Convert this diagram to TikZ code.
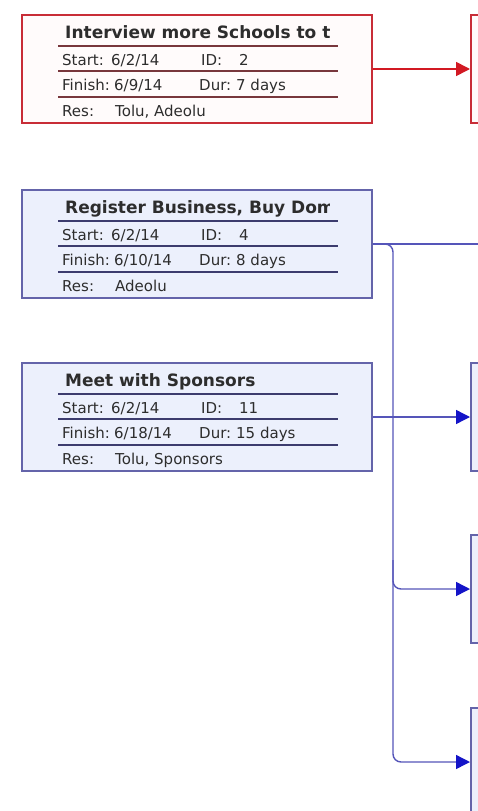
\documentclass[tikz,border=0pt]{standalone}
\usepackage{fontspec}
\setmainfont{DejaVu Sans}
\usetikzlibrary{arrows.meta}
\definecolor{redline}{RGB}{200,45,55}
\definecolor{redarrow}{RGB}{210,25,35}
\definecolor{redsepc}{RGB}{120,55,60}
\definecolor{redfill}{RGB}{255,251,251}
\definecolor{blueline}{RGB}{100,100,170}
\definecolor{bluefill}{RGB}{236,240,252}
\definecolor{bluesepc}{RGB}{60,60,110}
\definecolor{blueconnc}{RGB}{85,85,185}
\definecolor{bluehead}{RGB}{20,20,200}
\definecolor{txt}{RGB}{45,45,45}
\tikzset{
  redbox/.style={draw=redline, fill=redfill, line width=2pt, rectangle, inner sep=0pt},
  bluebox/.style={draw=blueline, fill=bluefill, line width=1.6pt, rectangle, inner sep=0pt},
  redsep/.style={draw=redsepc, line width=1.3pt},
  bluesep/.style={draw=bluesepc, line width=1.3pt},
  titletext/.style={font=\bfseries\fontsize{17}{17}\selectfont, text=txt, anchor=base west, inner sep=0pt},
  infotext/.style={font=\fontsize{15}{15}\selectfont, text=txt, anchor=base west, inner sep=0pt},
  redconn/.style={draw=redarrow, line width=1.6pt, -{Triangle[length=14pt,width=14pt]}},
  blueconn/.style={draw=blueconnc, line width=1.4pt},
  bluearrow/.style={blueconn, -{Triangle[length=14pt,width=14pt,color=bluehead]}},
  sidebox/.style={minimum width=60pt, minimum height=108pt, anchor=west},
}
\newcommand\taskbox[9]{%
  \begin{scope}[yshift=-#2pt]
    \node[#3box, minimum width=350pt, minimum height=108pt] (#1) at (197,54) {};
    \begin{scope}
      \clip (58,0) rectangle (329,30);
      \node[titletext] (#1-title) at (65,23) {#4};
    \end{scope}
    \draw[#3sep] (58,31) -- (338,31) (58,56) -- (338,56) (58,82) -- (338,82);
    \node[infotext] (#1-startl) at (62,50) {Start:};
    \node[infotext] (#1-start) at (111,50) {#5};
    \node[infotext] (#1-idl) at (201,50) {ID:};
    \node[infotext] (#1-id) at (239,50) {#6};
    \node[infotext] (#1-finl) at (62,75) {Finish:};
    \node[infotext] (#1-fin) at (114,75) {#7};
    \node[infotext] (#1-durl) at (199,75) {Dur:};
    \node[infotext] (#1-dur) at (236,75) {#8};
    \node[infotext] (#1-resl) at (62,101) {Res:};
    \node[infotext] (#1-res) at (115,101) {#9};
  \end{scope}}
\begin{document}
\begin{tikzpicture}[x=1pt, y=-1pt]
\useasboundingbox (0,0) rectangle (478,811);
\clip (0,0) rectangle (478,811);
\fill[white] (0,0) rectangle (478,811);

\taskbox{b1}{15}{red}{Interview more Schools to test}{6/2/14}{2}{6/9/14}{7 days}{Tolu, Adeolu}
\taskbox{b2}{190}{blue}{Register Business, Buy Domain}{6/2/14}{4}{6/10/14}{8 days}{Adeolu}
\taskbox{b3}{363}{blue}{Meet with Sponsors}{6/2/14}{11}{6/18/14}{15 days}{Tolu, Sponsors}

\node[redbox, sidebox] (r1) at (470,69) {};
\node[bluebox, sidebox] (r3) at (470,417) {};
\node[bluebox, sidebox] (r4) at (470,589) {};
\node[bluebox, sidebox] (r5) at (470,762) {};

\coordinate (out2) at (490,244);
\coordinate (busTop) at (393,244);
\coordinate (busBot) at (393,762);
\coordinate (br4) at (393,560);

\draw[redconn] (b1.east) -- (r1.west);
\draw[blueconn] (b2.east) -- (out2);
\draw[bluearrow, rounded corners=8pt] (b2.east) -- (busTop) -- (busBot) -- (r5.west);
\draw[bluearrow, rounded corners=8pt] (br4) -- (br4 |- r4.west) -- (r4.west);
\draw[bluearrow] (b3.east) -- (r3.west);
\end{tikzpicture}
\end{document}
